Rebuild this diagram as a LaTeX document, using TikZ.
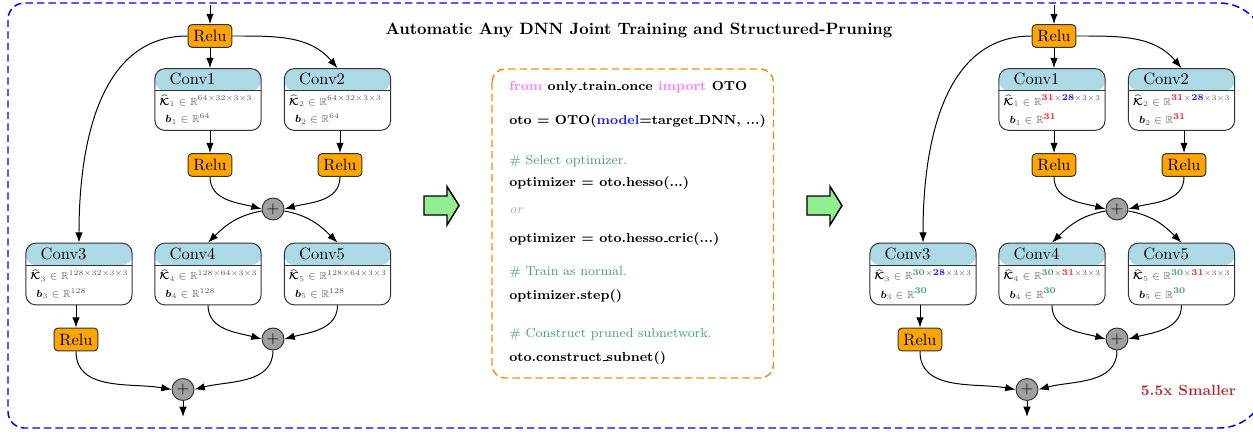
\documentclass[tikz,border=0pt]{standalone}
\usepackage{amsmath, amssymb, bm}
\usepackage{tikz}
\usetikzlibrary{arrows.meta, positioning}
\usepackage{xcolor}

\definecolor{convblue}{RGB}{173,216,230}
\definecolor{reluorange}{RGB}{255,165,0}
\definecolor{plusgray}{RGB}{160,160,160}
\definecolor{arrowgreen}{RGB}{144,238,144}
\definecolor{codepink}{RGB}{255,128,255}
\definecolor{codeblue}{RGB}{30,30,240}
\definecolor{codegreen}{RGB}{70,160,110}
\definecolor{codeorange}{RGB}{255,140,0}
\definecolor{prunedred}{RGB}{176,48,48}
\definecolor{numred}{RGB}{255,30,30}
\definecolor{numblue}{RGB}{30,30,255}
\definecolor{numgreen}{RGB}{60,160,100}

% shape of the weights
\newcommand{\kdim}[2]{$\color{black}\widehat{\bm{\mathcal{K}}}\color{black!65}_{#1}\in\mathbb{R}^{#2}$}
\newcommand{\bdim}[2]{$\color{black}\bm{b}\color{black!65}_{#1}\in\mathbb{R}^{#2}$}
\newcommand{\prunenum}[2]{\mbox{\fontsize{6pt}{7pt}\selectfont\bfseries\color{#1}#2}}
\newcommand{\nred}[1]{\prunenum{numred}{#1}}
\newcommand{\nblue}[1]{\prunenum{numblue}{#1}}
\newcommand{\ngreen}[1]{\prunenum{numgreen}{#1}}
% short underscore for the code
\newcommand{\codeus}{\leavevmode\kern.06em\vbox{\hrule width.3em height.5pt}}

\tikzset{
    arr/.style={-{Latex[length=2.2mm,width=1.6mm]}, semithick},
    relu/.style={draw=black!80, semithick, fill=reluorange, rounded corners=2.5pt,
        minimum width=0.94cm, minimum height=0.49cm, inner sep=0pt},
    plus/.style={circle, draw=black!80, semithick, fill=plusgray, minimum size=0.47cm, inner sep=0pt},
    convnode/.style={draw=black!80, semithick, rounded corners=6pt,
        minimum width=2.27cm, minimum height=1.32cm, inner sep=0pt,
        path picture={
            \fill[convblue] (path picture bounding box.north west) rectangle ([yshift=-0.47cm]path picture bounding box.north east);
            \draw[black!80, semithick] ([yshift=-0.47cm]path picture bounding box.north west) -- ([yshift=-0.47cm]path picture bounding box.north east);
        }},
    convtitle/.style={anchor=west, inner sep=0pt},
    convtext/.style={anchor=west, inner sep=0pt, font=\scriptsize, scale=0.9},
    code/.style={anchor=west, inner sep=0pt, font=\footnotesize\bfseries},
    comment/.style={anchor=west, inner sep=0pt, font=\footnotesize, text=codegreen},
}

\newcommand{\convbox}[5]{%
    \node[convnode] (#1) at #2 {};
    \node[convtitle] (#1t) at ([xshift=0.32cm,yshift=-0.235cm]#1.north west) {#3};
    \node[convtext] (#1k) at ([xshift=0.1cm,yshift=-0.7cm]#1.north west) {#4};
    \node[convtext] (#1b) at ([xshift=0.23cm,yshift=-1.09cm]#1.north west) {#5};
}

\begin{document}
\begin{tikzpicture}[x=0.0214cm, y=-0.0214cm]
    \useasboundingbox (0,0) rectangle (1253,431);

    % outer frame and title
    \draw[blue, line width=0.9pt, dash pattern=on 4.5pt off 2.5pt]
        (600,3) [rounded corners=1cm] -- (1266,3) -- (1266,428) [rounded corners=0.35cm] -- (8,428) -- (8,3) -- (600,3);
    \node[font=\bfseries] (title) at (639,30) {Automatic Any DNN Joint Training and Structured-Pruning};

    % full network
    \convbox{lc1}{(208,99.5)}{Conv1}{\kdim{1}{64\times 32\times 3\times 3}}{\bdim{1}{64}}
    \convbox{lc2}{(337.5,99.5)}{Conv2}{\kdim{2}{64\times 32\times 3\times 3}}{\bdim{2}{64}}
    \convbox{lc3}{(79,274)}{Conv3}{\kdim{3}{128\times 32\times 3\times 3}}{\bdim{3}{128}}
    \convbox{lc4}{(208,274)}{Conv4}{\kdim{4}{128\times 64\times 3\times 3}}{\bdim{4}{128}}
    \convbox{lc5}{(337.5,274)}{Conv5}{\kdim{5}{128\times 64\times 3\times 3}}{\bdim{5}{128}}

    % pruned network
    \convbox{rc1}{(1052,99.5)}{Conv1}{\kdim{1}{\nred{31}\times\nblue{28}\times 3\times 3}}{\bdim{1}{\nred{31}}}
    \convbox{rc2}{(1181.5,99.5)}{Conv2}{\kdim{2}{\nred{31}\times\nblue{28}\times 3\times 3}}{\bdim{2}{\nred{31}}}
    \convbox{rc3}{(923,274)}{Conv3}{\kdim{3}{\ngreen{30}\times\nblue{28}\times 3\times 3}}{\bdim{3}{\ngreen{30}}}
    \convbox{rc4}{(1052,274)}{Conv4}{\kdim{4}{\ngreen{30}\times\nred{31}\times 3\times 3}}{\bdim{4}{\ngreen{30}}}
    \convbox{rc5}{(1181.5,274)}{Conv5}{\kdim{5}{\ngreen{30}\times\nred{31}\times 3\times 3}}{\bdim{5}{\ngreen{30}}}

    \foreach \n/\dx in {l/0, r/844} {
        \node[relu] (\n r0) at (210+\dx,36) {Relu};
        \node[relu] (\n r1) at (210+\dx,165) {Relu};
        \node[relu] (\n r2) at (340+\dx,165) {Relu};
        \node[relu] (\n r3) at (76+\dx,339.5) {Relu};
        \node[plus] (\n p1) at (273+\dx,209) {$+$};
        \node[plus] (\n p2) at (273+\dx,339) {$+$};
        \node[plus] (\n p3) at (183+\dx,389.5) {$+$};
        \coordinate (\n in) at (210+\dx,5);
        \coordinate (\n out) at (183+\dx,417);

        % connections
        \draw[arr] (\n in) -- (\n r0);
        \draw[arr] (\n r0) -- (\n r0 |- \n c1.north);
        \draw[arr] (\n r0.east) to[out=0, in=130] (\n c2.north);
        \draw[arr] (\n r0.west) to[out=180, in=90] (\n c3.north);
        \draw[arr] (\n c1.south -| \n r1) -- (\n r1.north);
        \draw[arr] (\n c2.south -| \n r2) -- (\n r2.north);
        \draw[arr] (\n r1.south) to[out=-90, in=165] (\n p1.west);
        \draw[arr] (\n r2.south) to[out=-90, in=15] (\n p1.east);
        \draw[arr] (\n p1) to[out=190, in=45] (\n c4.north);
        \draw[arr] (\n p1) to[out=-10, in=135] (\n c5.north);
        \draw[arr] (\n c3.south -| \n r3) -- (\n r3.north);
        \draw[arr] (\n c4.south) to[out=-90, in=165] (\n p2.west);
        \draw[arr] (\n c5.south) to[out=-90, in=15] (\n p2.east);
        \draw[arr] (\n r3.south) to[out=-90, in=170] (\n p3.west);
        \draw[arr] (\n p2.south) to[out=-90, in=15] (\n p3.east);
        \draw[arr] (\n p3) -- (\n out);
    }

    % green arrows
    \foreach \ax in {424, 807} {
        \draw[fill=arrowgreen, line width=0.9pt, line join=miter]
            (\ax,196) -- (\ax+23,196) -- (\ax+23,186.5) -- (\ax+35,205.5) -- (\ax+23,225) -- (\ax+23,215) -- (\ax,215) -- cycle;
    }

    % code box
    \draw[codeorange, line width=0.9pt, rounded corners=8pt, dash pattern=on 4.5pt off 2.5pt] (492,69) rectangle (773.5,378);
    \node[code] (line1) at (509,87) {\textcolor{codepink}{from} only\codeus train\codeus once \textcolor{codepink}{import} OTO};
    \node[code] (line2) at (509,121) {oto = OTO(\textcolor{codeblue}{model}=target\codeus DNN, ...)};
    \node[comment] (line3) at (509,161) {\# Select optimizer.};
    \node[code] (line4) at (509,183.5) {optimizer = oto.hesso(...)};
    \node[anchor=west, inner sep=0pt, font=\footnotesize\itshape, text=black!35] (line5) at (509,211) {or};
    \node[code] (line6) at (509,239) {optimizer = oto.hesso\codeus cric(...)};
    \node[comment] (line7) at (509,272.5) {\# Train as normal.};
    \node[code] (line8) at (509,296) {optimizer.step()};
    \node[comment] (line9) at (509,334) {\# Construct pruned subnetwork.};
    \node[code] (line10) at (509,358) {oto.construct\codeus subnet()};

    \node[font=\small\bfseries, text=prunedred] (smaller) at (1188.5,390) {5.5x Smaller};
\end{tikzpicture}
\end{document}
